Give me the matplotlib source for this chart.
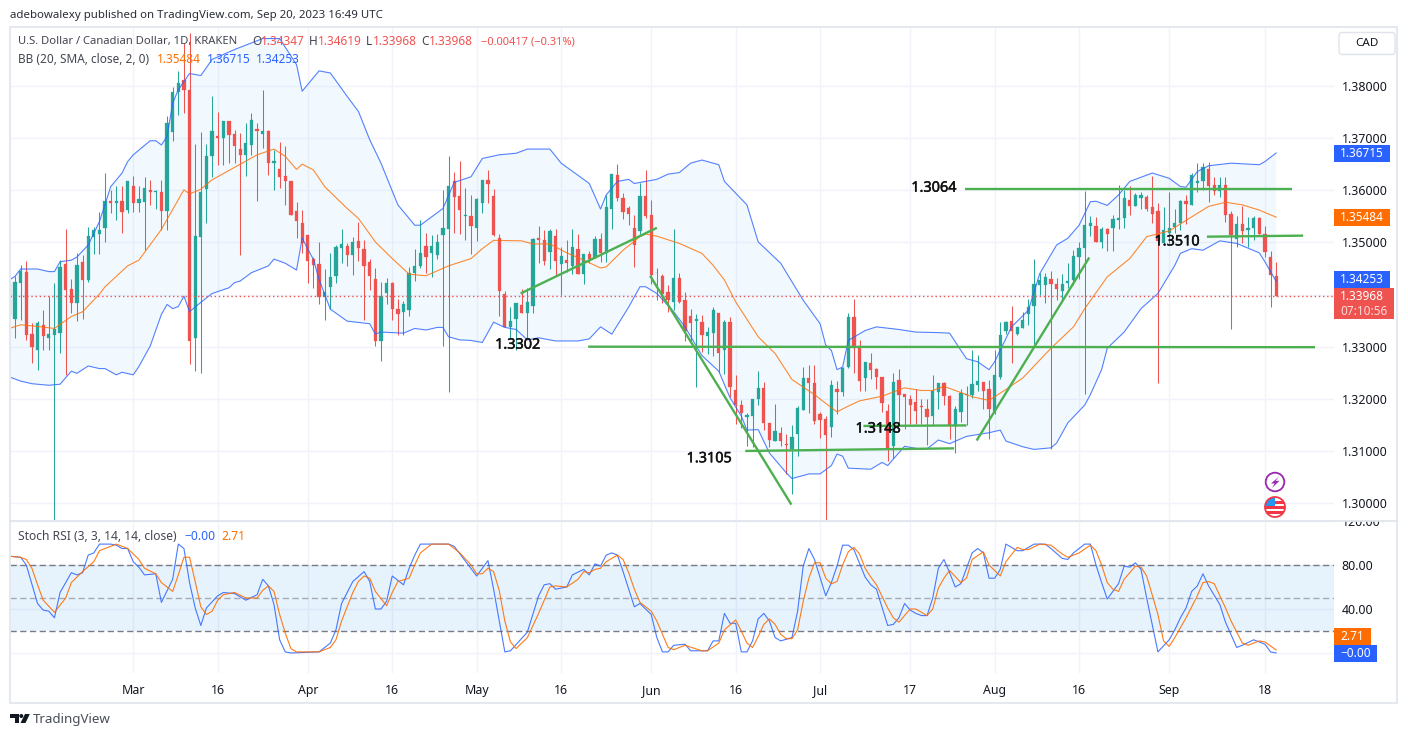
"""USD/CAD daily chart with Bollinger Bands and Stoch RSI (TradingView snapshot)."""

import numpy as np
import matplotlib
matplotlib.use('Agg')
import matplotlib.pyplot as plt
import matplotlib.patheffects as pe
from matplotlib.patches import Circle, FancyBboxPatch, Polygon, Rectangle
from matplotlib.transforms import Bbox

plt.rcParams['font.family'] = ['Noto Sans', 'DejaVu Sans']

W, H = 1408, 737

opens = [
    1.3420, 1.3353, 1.3422, 1.3444, 1.3324, 1.3294, 1.3342, 1.3316, 1.3322, 1.3326,
    1.3458, 1.3410, 1.3383, 1.3463, 1.3428, 1.3511, 1.3516, 1.3528, 1.3580, 1.3576,
    1.3580, 1.3562, 1.3608, 1.3576, 1.3578, 1.3601, 1.3596, 1.3596, 1.3561, 1.3711,
    1.3788, 1.3812, 1.3792, 1.3316, 1.3511, 1.3603, 1.3665, 1.3704, 1.3701, 1.3733,
    1.3708, 1.3679, 1.3668, 1.3687, 1.3718, 1.3708, 1.3714, 1.3653, 1.3641, 1.3628,
    1.3617, 1.3561, 1.3537, 1.3514, 1.3468, 1.3458, 1.3396, 1.3414, 1.3435, 1.3490,
    1.3494, 1.3476, 1.3502, 1.3488, 1.3463, 1.3429, 1.3311, 1.3403, 1.3423, 1.3373,
    1.3366, 1.3370, 1.3441, 1.3454, 1.3493, 1.3479, 1.3476, 1.3514, 1.3526, 1.3617,
    1.3589, 1.3551, 1.3551, 1.3528, 1.3575, 1.3620, 1.3589, 1.3508, 1.3401, 1.3337,
    1.3354, 1.3380, 1.3365, 1.3378, 1.3509, 1.3505, 1.3481, 1.3512, 1.3458, 1.3466,
    1.3454, 1.3487, 1.3439, 1.3478, 1.3471, 1.3506, 1.3480, 1.3565, 1.3629, 1.3585,
    1.3566, 1.3527, 1.3522, 1.3589, 1.3553, 1.3442, 1.3435, 1.3404, 1.3385, 1.3431,
    1.3389, 1.3358, 1.3349, 1.3347, 1.3320, 1.3326, 1.3365, 1.3293, 1.3347, 1.3216,
    1.3188, 1.3165, 1.3168, 1.3199, 1.3220, 1.3153, 1.3120, 1.3135, 1.3114, 1.3104,
    1.3133, 1.3179, 1.3240, 1.3231, 1.3170, 1.3162, 1.3146, 1.3219, 1.3213, 1.3262,
    1.3356, 1.3301, 1.3239, 1.3269, 1.3258, 1.3242, 1.3176, 1.3109, 1.3237, 1.3210,
    1.3199, 1.3194, 1.3187, 1.3180, 1.3167, 1.3213, 1.3231, 1.3206, 1.3147, 1.3174,
    1.3207, 1.3208, 1.3226, 1.3233, 1.3218, 1.3176, 1.3241, 1.3330, 1.3349, 1.3324,
    1.3335, 1.3362, 1.3378, 1.3418, 1.3419, 1.3429, 1.3421, 1.3407, 1.3422, 1.3428,
    1.3472, 1.3490, 1.3532, 1.3532, 1.3501, 1.3525, 1.3527, 1.3543, 1.3547, 1.3581,
    1.3570, 1.3585, 1.3588, 1.3567, 1.3560, 1.3499, 1.3519, 1.3529, 1.3538, 1.3579,
    1.3572, 1.3613, 1.3617, 1.3641, 1.3610, 1.3599, 1.3610, 1.3554, 1.3506, 1.3535,
    1.3524, 1.3527, 1.3547, 1.3517, 1.3472, 1.34347,
]
highs = [
    1.3428, 1.3435, 1.3456, 1.3465, 1.3346, 1.3349, 1.3370, 1.3397, 1.3423, 1.3467,
    1.3526, 1.3429, 1.3479, 1.3476, 1.3529, 1.3529, 1.3558, 1.3633, 1.3601, 1.3608,
    1.3608, 1.3618, 1.3628, 1.3608, 1.3626, 1.3620, 1.3600, 1.3620, 1.3742, 1.3798,
    1.3828, 1.3883, 1.3902, 1.3689, 1.3712, 1.3689, 1.3781, 1.3751, 1.3733, 1.3733,
    1.3716, 1.3710, 1.3729, 1.3748, 1.3729, 1.3793, 1.3715, 1.3678, 1.3692, 1.3684,
    1.3617, 1.3578, 1.3562, 1.3514, 1.3472, 1.3500, 1.3449, 1.3479, 1.3495, 1.3525,
    1.3498, 1.3510, 1.3540, 1.3505, 1.3468, 1.3450, 1.3424, 1.3431, 1.3424, 1.3392,
    1.3388, 1.3452, 1.3488, 1.3543, 1.3519, 1.3515, 1.3517, 1.3601, 1.3666, 1.3635,
    1.3656, 1.3604, 1.3590, 1.3585, 1.3620, 1.3639, 1.3602, 1.3516, 1.3406, 1.3376,
    1.3384, 1.3410, 1.3412, 1.3508, 1.3531, 1.3524, 1.3525, 1.3526, 1.3492, 1.3505,
    1.3526, 1.3517, 1.3478, 1.3484, 1.3512, 1.3519, 1.3590, 1.3631, 1.3651, 1.3594,
    1.3570, 1.3553, 1.3613, 1.3639, 1.3581, 1.3451, 1.3440, 1.3418, 1.3526, 1.3442,
    1.3404, 1.3373, 1.3363, 1.3360, 1.3338, 1.3376, 1.3365, 1.3351, 1.3357, 1.3245,
    1.3197, 1.3172, 1.3200, 1.3253, 1.3233, 1.3154, 1.3191, 1.3146, 1.3133, 1.3149,
    1.3186, 1.3262, 1.3264, 1.3264, 1.3174, 1.3168, 1.3236, 1.3234, 1.3262, 1.3365,
    1.3392, 1.3313, 1.3271, 1.3288, 1.3260, 1.3242, 1.3191, 1.3249, 1.3257, 1.3210,
    1.3208, 1.3219, 1.3200, 1.3200, 1.3245, 1.3231, 1.3233, 1.3207, 1.3186, 1.3219,
    1.3224, 1.3293, 1.3285, 1.3233, 1.3236, 1.3293, 1.3347, 1.3349, 1.3378, 1.3338,
    1.3367, 1.3392, 1.3469, 1.3442, 1.3442, 1.3446, 1.3431, 1.3440, 1.3461, 1.3485,
    1.3501, 1.3599, 1.3551, 1.3549, 1.3530, 1.3527, 1.3553, 1.3610, 1.3601, 1.3608,
    1.3594, 1.3597, 1.3590, 1.3628, 1.3575, 1.3567, 1.3596, 1.3565, 1.3581, 1.3591,
    1.3634, 1.3652, 1.3652, 1.3654, 1.3626, 1.3626, 1.3626, 1.3560, 1.3551, 1.3569,
    1.3548, 1.3551, 1.3549, 1.3531, 1.3483, 1.34619,
]
lows = [
    1.3353, 1.3316, 1.3351, 1.3312, 1.3268, 1.3256, 1.3294, 1.3294, 1.2950, 1.3287,
    1.3245, 1.3364, 1.3349, 1.3354, 1.3424, 1.3478, 1.3478, 1.3501, 1.3556, 1.3543,
    1.3519, 1.3556, 1.3559, 1.3558, 1.3485, 1.3572, 1.3565, 1.3524, 1.3524, 1.3694,
    1.3745, 1.3748, 1.3266, 1.3253, 1.3250, 1.3537, 1.3626, 1.3649, 1.3649, 1.3652,
    1.3652, 1.3476, 1.3628, 1.3668, 1.3580, 1.3681, 1.3629, 1.3601, 1.3604, 1.3572,
    1.3553, 1.3508, 1.3480, 1.3422, 1.3412, 1.3381, 1.3351, 1.3372, 1.3422, 1.3460,
    1.3454, 1.3437, 1.3465, 1.3351, 1.3409, 1.3301, 1.3272, 1.3381, 1.3351, 1.3322,
    1.3322, 1.3358, 1.3426, 1.3451, 1.3441, 1.3433, 1.3468, 1.3301, 1.3213, 1.3519,
    1.3517, 1.3504, 1.3478, 1.3503, 1.3557, 1.3575, 1.3512, 1.3359, 1.3338, 1.3315,
    1.3293, 1.3364, 1.3315, 1.3365, 1.3460, 1.3456, 1.3449, 1.3437, 1.3399, 1.3444,
    1.3440, 1.3439, 1.3420, 1.3460, 1.3471, 1.3462, 1.3463, 1.3526, 1.3580, 1.3545,
    1.3533, 1.3453, 1.3517, 1.3546, 1.3420, 1.3389, 1.3383, 1.3367, 1.3370, 1.3383,
    1.3311, 1.3311, 1.3222, 1.3290, 1.3286, 1.3283, 1.3251, 1.3248, 1.3204, 1.3151,
    1.3144, 1.3110, 1.3108, 1.3188, 1.3140, 1.3108, 1.3119, 1.3109, 1.3056, 1.3018,
    1.3091, 1.3179, 1.3173, 1.3151, 1.3124, 1.2968, 1.3127, 1.3170, 1.3205, 1.3260,
    1.3249, 1.3215, 1.3215, 1.3238, 1.3218, 1.3174, 1.3080, 1.3087, 1.3154, 1.3142,
    1.3151, 1.3151, 1.3151, 1.3111, 1.3149, 1.3181, 1.3189, 1.3122, 1.3097, 1.3155,
    1.3150, 1.3202, 1.3215, 1.3180, 1.3123, 1.3170, 1.3238, 1.3325, 1.3269, 1.3322,
    1.3335, 1.3341, 1.3306, 1.3399, 1.3384, 1.3103, 1.3390, 1.3388, 1.3412, 1.3418,
    1.3429, 1.3210, 1.3512, 1.3500, 1.3490, 1.3484, 1.3484, 1.3526, 1.3527, 1.3553,
    1.3569, 1.3565, 1.3561, 1.3538, 1.3230, 1.3499, 1.3499, 1.3519, 1.3524, 1.3535,
    1.3572, 1.3597, 1.3601, 1.3578, 1.3591, 1.3588, 1.3540, 1.3333, 1.3492, 1.3499,
    1.3492, 1.3504, 1.3516, 1.3472, 1.3376, 1.33968,
]
closes = [
    1.3360, 1.3425, 1.3446, 1.3322, 1.3299, 1.3345, 1.3321, 1.3324, 1.3333, 1.3453,
    1.3409, 1.3383, 1.3456, 1.3428, 1.3512, 1.3524, 1.3524, 1.3580, 1.3576, 1.3580,
    1.3558, 1.3618, 1.3576, 1.3583, 1.3604, 1.3596, 1.3599, 1.3561, 1.3729, 1.3788,
    1.3806, 1.3792, 1.3311, 1.3512, 1.3597, 1.3666, 1.3714, 1.3701, 1.3733, 1.3706,
    1.3684, 1.3668, 1.3690, 1.3735, 1.3713, 1.3714, 1.3653, 1.3656, 1.3625, 1.3617,
    1.3553, 1.3542, 1.3498, 1.3465, 1.3456, 1.3396, 1.3404, 1.3434, 1.3492, 1.3496,
    1.3476, 1.3500, 1.3490, 1.3454, 1.3436, 1.3311, 1.3397, 1.3422, 1.3372, 1.3362,
    1.3381, 1.3441, 1.3454, 1.3479, 1.3472, 1.3493, 1.3500, 1.3527, 1.3608, 1.3588,
    1.3562, 1.3553, 1.3531, 1.3583, 1.3620, 1.3612, 1.3514, 1.3406, 1.3337, 1.3349,
    1.3383, 1.3365, 1.3385, 1.3506, 1.3505, 1.3465, 1.3522, 1.3465, 1.3474, 1.3460,
    1.3492, 1.3439, 1.3478, 1.3469, 1.3506, 1.3479, 1.3567, 1.3631, 1.3585, 1.3558,
    1.3555, 1.3495, 1.3589, 1.3551, 1.3438, 1.3442, 1.3402, 1.3389, 1.3431, 1.3386,
    1.3331, 1.3346, 1.3353, 1.3322, 1.3328, 1.3370, 1.3288, 1.3347, 1.3222, 1.3189,
    1.3173, 1.3169, 1.3200, 1.3220, 1.3153, 1.3121, 1.3139, 1.3120, 1.3111, 1.3127,
    1.3183, 1.3240, 1.3231, 1.3157, 1.3160, 1.3130, 1.3226, 1.3213, 1.3260, 1.3356,
    1.3298, 1.3234, 1.3271, 1.3256, 1.3242, 1.3192, 1.3106, 1.3232, 1.3208, 1.3203,
    1.3189, 1.3176, 1.3185, 1.3165, 1.3215, 1.3231, 1.3205, 1.3147, 1.3181, 1.3212,
    1.3210, 1.3228, 1.3235, 1.3215, 1.3180, 1.3245, 1.3322, 1.3348, 1.3330, 1.3337,
    1.3351, 1.3376, 1.3420, 1.3428, 1.3433, 1.3420, 1.3410, 1.3421, 1.3426, 1.3474,
    1.3490, 1.3533, 1.3537, 1.3501, 1.3526, 1.3517, 1.3545, 1.3547, 1.3585, 1.3570,
    1.3590, 1.3590, 1.3565, 1.3554, 1.3503, 1.3524, 1.3528, 1.3538, 1.3579, 1.3574,
    1.3629, 1.3618, 1.3644, 1.3608, 1.3599, 1.3610, 1.3553, 1.3514, 1.3535, 1.3522,
    1.3528, 1.3546, 1.3517, 1.3482, 1.3437, 1.33968,
]

# bollinger bands, read at the kinks of each line
upper_idx = [0, 1, 2, 5, 7, 8, 9, 11, 12, 14, 16, 18, 20, 21, 22, 25, 26, 27, 28, 29, 30, 32, 34, 36, 40, 45, 48,
             51, 52, 55, 57, 60, 62, 64, 66, 69, 72, 73, 77, 79, 82, 84, 87, 90, 92, 96, 98, 103, 105, 106, 108,
             110, 111, 115, 117, 119, 121, 123, 126, 127, 131, 133, 137, 141, 144, 145, 146, 147, 148, 149, 152,
             154, 158, 161, 165, 167, 169, 170, 172, 174, 175, 178, 181, 183, 186, 188, 190, 192, 193, 195, 197,
             199, 203, 206, 208, 209, 211, 213, 217, 222, 223, 225]
upper = [1.3428, 1.3435, 1.3449, 1.3449, 1.3444, 1.3444, 1.3463, 1.3466, 1.3472, 1.3495, 1.3540, 1.3607, 1.3633,
         1.3655, 1.3668, 1.3695, 1.3695, 1.3687, 1.3703, 1.3767, 1.3793, 1.3824, 1.3820, 1.3851, 1.3870, 1.3891,
         1.3891, 1.3841, 1.3790, 1.3829, 1.3825, 1.3780, 1.3751, 1.3697, 1.3652, 1.3572, 1.3533, 1.3533, 1.3565,
         1.3615, 1.3626, 1.3661, 1.3668, 1.3671, 1.3679, 1.3679, 1.3652, 1.3613, 1.3564, 1.3591, 1.3617, 1.3621,
         1.3613, 1.3621, 1.3631, 1.3634, 1.3652, 1.3658, 1.3649, 1.3617, 1.3572, 1.3501, 1.3460, 1.3389, 1.3344,
         1.3303, 1.3293, 1.3256, 1.3261, 1.3312, 1.3331, 1.3338, 1.3333, 1.3328, 1.3327, 1.3326, 1.3293, 1.3277,
         1.3271, 1.3256, 1.3271, 1.3338, 1.3370, 1.3440, 1.3495, 1.3508, 1.3533, 1.3578, 1.3579, 1.3571, 1.3591,
         1.3617, 1.3633, 1.3623, 1.3607, 1.3606, 1.3636, 1.3647, 1.3652, 1.3649, 1.3655, 1.36715]
basis_idx = [0, 2, 4, 8, 11, 13, 16, 17, 21, 23, 27, 31, 32, 34, 36, 40, 44, 47, 49, 51, 52, 54, 56, 60, 62, 65, 68,
             71, 74, 78, 82, 84, 86, 91, 93, 96, 99, 102, 105, 106, 109, 112, 113, 115, 119, 123, 125, 127, 129,
             133, 136, 139, 143, 146, 147, 149, 151, 155, 159, 162, 164, 166, 169, 171, 174, 177, 180, 185, 189,
             191, 195, 199, 202, 206, 210, 213, 216, 219, 222, 225]
basis = [1.3335, 1.3342, 1.3340, 1.3335, 1.3358, 1.3367, 1.3401, 1.3415, 1.3455, 1.3466, 1.3525, 1.3601, 1.3593,
         1.3602, 1.3620, 1.3644, 1.3668, 1.3679, 1.3665, 1.3640, 1.3650, 1.3639, 1.3607, 1.3565, 1.3546, 1.3501,
         1.3469, 1.3439, 1.3436, 1.3455, 1.3469, 1.3488, 1.3504, 1.3503, 1.3497, 1.3497, 1.3480, 1.3466, 1.3451,
         1.3453, 1.3485, 1.3511, 1.3516, 1.3512, 1.3498, 1.3479, 1.3456, 1.3428, 1.3386, 1.3319, 1.3287, 1.3237,
         1.3208, 1.3183, 1.3175, 1.3186, 1.3196, 1.3205, 1.3221, 1.3216, 1.3216, 1.3224, 1.3212, 1.3204, 1.3197,
         1.3218, 1.3240, 1.3297, 1.3338, 1.3373, 1.3434, 1.3469, 1.3511, 1.3522, 1.3549, 1.3569, 1.3577, 1.3572,
         1.3562, 1.35484]
lower_idx = [0, 2, 4, 7, 9, 11, 12, 14, 16, 17, 19, 20, 22, 23, 25, 27, 28, 29, 30, 31, 32, 34, 36, 39, 40, 41, 43,
             46, 47, 49, 51, 52, 54, 55, 57, 60, 64, 65, 66, 70, 72, 74, 76, 77, 78, 80, 82, 84, 86, 88, 90, 92,
             94, 97, 101, 103, 105, 107, 110, 112, 113, 115, 118, 120, 123, 126, 128, 130, 131, 133, 135, 138,
             139, 142, 144, 146, 147, 148, 149, 153, 155, 156, 159, 162, 163, 165, 167, 170, 174, 176, 177, 180,
             182, 185, 186, 188, 191, 192, 194, 195, 198, 201, 204, 207, 208, 210, 212, 215, 218, 222, 223, 225]
lower = [1.3242, 1.3234, 1.3229, 1.3226, 1.3228, 1.3253, 1.3249, 1.3263, 1.3258, 1.3258, 1.3246, 1.3251, 1.3246,
         1.3262, 1.3301, 1.3362, 1.3381, 1.3373, 1.3377, 1.3397, 1.3367, 1.3385, 1.3402, 1.3413, 1.3423, 1.3426,
         1.3442, 1.3455, 1.3468, 1.3460, 1.3447, 1.3508, 1.3467, 1.3429, 1.3372, 1.3349, 1.3344, 1.3324, 1.3328,
         1.3326, 1.3335, 1.3332, 1.3337, 1.3337, 1.3319, 1.3313, 1.3312, 1.3308, 1.3347, 1.3337, 1.3333, 1.3313,
         1.3317, 1.3311, 1.3311, 1.3315, 1.3338, 1.3324, 1.3376, 1.3415, 1.3415, 1.3402, 1.3367, 1.3338, 1.3283,
         1.3253, 1.3202, 1.3167, 1.3140, 1.3141, 1.3096, 1.3058, 1.3047, 1.3056, 1.3056, 1.3072, 1.3094, 1.3090,
         1.3067, 1.3065, 1.3078, 1.3072, 1.3109, 1.3103, 1.3104, 1.3121, 1.3114, 1.3128, 1.3135, 1.3140, 1.3119,
         1.3108, 1.3103, 1.3106, 1.3115, 1.3154, 1.3188, 1.3208, 1.3256, 1.3297, 1.3328, 1.3373, 1.3402, 1.3456,
         1.3479, 1.3488, 1.3485, 1.3503, 1.3498, 1.3480, 1.3463, 1.34253]

k_idx = [0, 2, 3, 5, 6, 7, 8, 9, 11, 12, 13, 14, 15, 16, 18, 19, 20, 21, 22, 23, 24, 26, 27, 29, 30, 31, 32, 33, 34,
         35, 37, 38, 40, 42, 44, 45, 46, 47, 48, 49, 50, 55, 57, 58, 59, 61, 63, 64, 65, 66, 67, 68, 70, 71, 72,
         73, 78, 79, 83, 85, 86, 88, 89, 92, 94, 95, 96, 97, 99, 100, 102, 103, 104, 105, 106, 107, 108, 109, 111,
         112, 114, 115, 116, 117, 118, 120, 121, 124, 125, 126, 127, 128, 129, 130, 131, 132, 133, 134, 135, 136,
         137, 139, 140, 141, 142, 143, 145, 146, 147, 148, 149, 150, 152, 153, 154, 156, 157, 158, 159, 160, 161,
         162, 163, 164, 165, 166, 167, 168, 169, 170, 171, 172, 173, 174, 175, 176, 177, 179, 180, 182, 184, 185,
         187, 188, 189, 191, 192, 193, 194, 195, 197, 198, 199, 200, 201, 202, 204, 206, 207, 208, 209, 210, 211,
         212, 213, 215, 216, 218, 219, 221, 223, 224, 225]
k_vals = [88, 87, 80, 45, 39, 38, 32, 55, 73, 71, 73, 89, 91, 99, 99, 98, 95, 95, 83, 78, 71, 72, 46, 67, 99, 95, 64,
          41, 25, 41, 52, 55, 54, 48, 53, 67, 61, 44, 12, 1, 0, 1, 9, 21, 45, 65, 74, 65, 40, 40, 47, 70, 62, 77,
          89, 99, 99, 97, 70, 84, 58, 1, 2, 19, 52, 62, 63, 58, 60, 71, 76, 71, 81, 79, 89, 91, 89, 74, 42, 45, 35,
          14, 1, 1, 7, 8, 2, 2, 11, 11, 36, 27, 27, 1, 1, 11, 31, 36, 29, 14, 11, 14, 38, 79, 95, 85, 52, 64, 79,
          98, 98, 94, 69, 62, 58, 25, 26, 32, 45, 39, 36, 34, 34, 50, 77, 85, 73, 60, 63, 77, 91, 95, 91, 68, 68,
          76, 99, 93, 93, 99, 99, 95, 86, 85, 91, 99, 99, 80, 64, 49, 63, 79, 78, 82, 76, 50, 1, 12, 21, 32, 41, 56,
          61, 72, 61, 44, 28, 5, 7, 12, 8, 1, -0.00]
d_idx = [0, 2, 3, 4, 5, 6, 8, 10, 11, 13, 15, 16, 19, 21, 23, 24, 26, 27, 29, 30, 31, 32, 33, 34, 35, 36, 37, 38, 40,
         42, 44, 45, 46, 47, 48, 49, 50, 51, 55, 57, 58, 59, 61, 62, 63, 64, 65, 67, 68, 69, 71, 72, 73, 75, 78, 80,
         82, 83, 84, 85, 86, 87, 88, 89, 90, 92, 94, 96, 97, 99, 101, 102, 103, 104, 105, 106, 108, 109, 110, 111,
         112, 114, 115, 117, 118, 120, 123, 124, 126, 127, 129, 130, 131, 132, 133, 134, 135, 136, 137, 138, 139,
         140, 141, 142, 143, 144, 145, 146, 147, 148, 149, 150, 151, 152, 153, 154, 156, 157, 158, 160, 161, 163,
         164, 165, 166, 167, 169, 170, 171, 173, 174, 176, 177, 179, 180, 181, 183, 185, 187, 188, 190, 192, 193,
         194, 195, 196, 197, 198, 200, 201, 202, 204, 205, 206, 207, 209, 211, 212, 213, 214, 216, 217, 219, 220,
         222, 223, 225]
d_vals = [88, 87, 85, 77, 62, 48, 37, 50, 64, 74, 83, 93, 99, 95, 85, 77, 72, 64, 56, 71, 87, 87, 65, 42, 35, 38, 48,
          53, 55, 50, 50, 57, 61, 56, 35, 18, 4, 1, 1, 5, 12, 29, 55, 65, 70, 68, 56, 43, 55, 65, 68, 80, 91, 99, 99,
          91, 80, 72, 72, 77, 74, 57, 29, 10, 4, 14, 36, 60, 61, 60, 67, 74, 73, 76, 77, 83, 89, 85, 73, 58, 46, 38,
          29, 5, 3, 7, 2, 2, 9, 21, 30, 20, 9, 5, 15, 26, 31, 26, 17, 13, 13, 21, 47, 68, 82, 82, 68, 63, 65, 80, 92,
          96, 90, 77, 69, 62, 41, 32, 28, 40, 40, 34, 40, 59, 68, 75, 64, 68, 85, 92, 80, 70, 83, 96, 94, 94, 99, 98,
          90, 87, 91, 98, 93, 80, 64, 58, 56, 67, 79, 78, 70, 35, 11, 6, 14, 32, 52, 64, 65, 63, 41, 29, 9, 7, 11, 10,
          2.71]

price_ticks = [1.30, 1.31, 1.32, 1.33, 1.34, 1.35, 1.36, 1.37, 1.38]
# 1.34000 sits under the last price tag in the original
price_labels = ['1.30000', '1.31000', '1.32000', '1.33000', '', '1.35000', '1.36000', '1.37000', '1.38000']
stoch_ticks = [0, 40, 80, 120]
stoch_labels = ['', '40.00', '80.00', '120.00']
date_idx = [22, 37, 53, 68, 83, 98, 114, 129, 144, 160, 175, 190, 206, 223]
date_labels = ['Mar', '16', 'Apr', '16', 'May', '16', 'Jun', '16', 'Jul', '17', 'Aug', '16', 'Sep', '18']

# trend lines drawn on the chart: (start idx, end idx, start price, end price)
trend_lines = [
    (169.7, 227.8, 1.3602, 1.3602),
    (102.8, 231.9, 1.3300, 1.3299),
    (212.7, 229.8, 1.3511, 1.3513),
    (90.8, 115.0, 1.3402, 1.3528),
    (113.8, 138.9, 1.3436, 1.2997),
    (130.7, 167.8, 1.3100, 1.3105),
    (151.7, 170.0, 1.3148, 1.3149),
    (171.8, 191.8, 1.3120, 1.3471),
]
note_labels = ['1.3064', '1.3302', '1.3510', '1.3148', '1.3105']
note_idx = [164.2, 90.3, 207.4, 154.3, 124.3]
note_prices = [1.3604, 1.3303, 1.3501, 1.3142, 1.3085]

last_close = 1.33968

UP = '#26a69a'
DOWN = '#ef5350'
BLUE = '#2962ff'
ORANGE = '#ff6d00'
GREEN = '#4caf50'
GRID = '#f0f3fa'
TEXT = '#131722'
FRAME = '#e6e8f0'

fig = plt.figure(figsize=(W / 100, H / 100), dpi=100, facecolor='white')


def pane(left, top, right, bottom):
    return fig.add_axes([left / W, 1 - bottom / H, (right - left) / W, (bottom - top) / H])


ax = pane(10, 28, 1334, 520)
ax2 = pane(10, 521, 1334, 673)
XLIM = ((10 - 9.4) / 5.63, (1334 - 9.4) / 5.63)
for a in (ax, ax2):
    a.set_xlim(*XLIM)
    for s in a.spines.values():
        s.set_visible(False)
    a.set_axisbelow(True)
    a.grid(True, color=GRID, lw=1)
    a.yaxis.tick_right()
    a.tick_params(length=0, labelsize=8.9, colors=TEXT, pad=5.5)
    a.set_xticks(date_idx)
ax.set_xticklabels([])
ax2.set_xticklabels(date_labels)
ax2.tick_params(axis='x', pad=8)
ax.set_ylim(1.38 - (520 - 86) * 0.0001918, 1.38 + (86 - 28) * 0.0001918)
ax.set_yticks(price_ticks)
ax.set_yticklabels(price_labels)
ax2.set_ylim(-18.2, 120)
ax2.set_yticks(stoch_ticks)
ax2.set_yticklabels(stoch_labels)
# the 120.00 label gets cut off by the pane separator
for t in ax2.get_yticklabels():
    t.set_clip_on(True)
    t.set_clip_box(Bbox([[0, 0], [W, H - 520.5]]))

# bollinger band fill + candles + band lines
ax.fill(np.r_[upper_idx, lower_idx[::-1]], np.r_[upper, lower[::-1]], color='#2196f3', alpha=0.055, lw=0, zorder=1)

opens, highs, lows, closes = map(np.array, (opens, highs, lows, closes))
bars = np.arange(len(opens))
colors = np.where(closes >= opens, UP, DOWN)
ax.vlines(bars, lows, highs, colors=colors, lw=0.75, zorder=2)
ax.bar(bars, np.abs(closes - opens), bottom=np.minimum(opens, closes), width=0.58, color=colors, lw=0.2,
       edgecolor=colors, zorder=3)

ax.plot(upper_idx, upper, color=BLUE, lw=0.8, alpha=0.8, zorder=4)
ax.plot(lower_idx, lower, color=BLUE, lw=0.8, alpha=0.8, zorder=4)
ax.plot(basis_idx, basis, color=ORANGE, lw=0.8, alpha=0.8, zorder=4)
ax.axhline(last_close, color=DOWN, lw=1, ls=(0, (1, 2)), zorder=4)

for x0, x1, y0, y1 in trend_lines:
    ax.plot([x0, x1], [y0, y1], color=GREEN, lw=1.7, solid_capstyle='butt', zorder=5)
for label_text, x, y in zip(note_labels, note_idx, note_prices):
    ax.text(x, y, label_text, ha='center', va='center', fontsize=10.4, color='#111111', zorder=6,
            path_effects=[pe.withStroke(linewidth=0.35, foreground='#111111')])

# stoch rsi pane
ax2.axhspan(20, 80, color='#2196f3', alpha=0.11, lw=0, zorder=1)
ax2.axhline(80, color='#787b86', lw=1, ls=(0, (4.5, 2.5)), zorder=2)
ax2.axhline(50, color='#787b86', lw=1, alpha=0.6, ls=(0, (4.5, 2.5)), zorder=2)
ax2.axhline(20, color='#787b86', lw=1, ls=(0, (4.5, 2.5)), zorder=2)
ax2.plot(k_idx, k_vals, color=BLUE, lw=0.8, alpha=0.85, zorder=3)
ax2.plot(d_idx, d_vals, color=ORANGE, lw=0.8, alpha=0.9, zorder=4)

# overlay in pixel coordinates for legends, price tags, frame and logo
deco = fig.add_axes([0, 0, 1, 1], zorder=10)
deco.set_xlim(0, W)
deco.set_ylim(H, 0)
deco.axis('off')
deco.patch.set_alpha(0)


def label(x, y, s, color=TEXT, size=8.5, ha='left', **kw):
    deco.text(x, y, s, color=color, fontsize=size, ha=ha, va='center', **kw)


def tag(x0, x1, y0, y1, color):
    deco.add_patch(Rectangle((x0, y0), x1 - x0, y1 - y0, fc=color, ec='none'))


deco.add_patch(Rectangle((10, 27), 1387, 675.5, fc='none', ec=FRAME, lw=1.5))
deco.plot([10, 1397], [520.5, 520.5], color='#e0e3eb', lw=1.2)

label(10, 15, 'adebowalexy published on TradingView.com, Sep 20, 2023 16:49 UTC', color='#2a2e39', size=8.25)
label(18, 41.5, 'U.S. Dollar / Canadian Dollar, 1D, KRAKEN', color='#434651', size=8.1)
for x, s, c in [(252, 'O', '#434651'), (260.5, '1.34347', DOWN), (309, 'H', '#434651'), (317.5, '1.34619', DOWN),
                (366, 'L', '#434651'), (373, '1.33968', DOWN), (421, 'C', '#434651'), (429, '1.33968', DOWN)]:
    label(x, 41.5, s, color=c)
label(481, 41.5, '\u22120.00417 (\u22120.31%)', color=DOWN, size=8.0)
label(18, 59, 'BB (20, SMA, close, 2, 0)', color='#434651')
label(157, 59, '1.35484', color=ORANGE)
label(207, 59, '1.36715', color=BLUE)
label(256, 59, '1.34253', color=BLUE)
label(18, 536, 'Stoch RSI (3, 3, 14, 14, close)', color='#434651', size=8.7)
label(184, 536, '\u22120.00', color=BLUE, size=8.7)
label(221, 536, '2.71', color=ORANGE, size=8.7)

deco.add_patch(FancyBboxPatch((1339, 32.5), 56, 22, boxstyle='round,pad=0,rounding_size=3', fc='white',
                              ec='#e0e3eb', lw=1))
label(1367, 43.5, 'CAD', ha='center', size=8.4)

# price tags on the right scale
tag(1334, 1390, 145, 162, BLUE)
label(1362, 153.5, '1.36715', color='white', ha='center', fontweight='bold')
tag(1334, 1390, 209, 226, ORANGE)
label(1362, 217.5, '1.35484', color='white', ha='center', fontweight='bold')
tag(1334, 1390, 271, 288, BLUE)
label(1362, 279.5, '1.34253', color='white', ha='center', fontweight='bold')
tag(1334, 1394, 288, 319, DOWN)
label(1362, 296.5, '1.33968', color='white', ha='center', fontweight='bold')
label(1364, 311, '07:10:56', color='#fbdcdc', ha='center')
tag(1334, 1371, 628, 645, ORANGE)
label(1352.5, 636.5, '2.71', color='white', ha='center', fontweight='bold')
tag(1334, 1377, 645, 662, BLUE)
label(1355.5, 653.5, '\u22120.00', color='white', ha='center', fontweight='bold')

# event icons
deco.add_patch(Circle((1275, 482), 9.3, fc='white', ec='#9c27b0', lw=1.3))
deco.add_patch(Polygon([(1279, 476.5), (1271, 483.5), (1274.6, 483.5), (1272, 488), (1279.5, 480.8), (1275.6, 480.8)],
                       fc='#9c27b0', ec='none'))
flag = Circle((1275, 507), 10, fc='white', ec='none')
deco.add_patch(flag)
for y0, h in [(501, 2.6), (506, 2.6), (511, 2.6)]:
    deco.add_patch(Rectangle((1264, y0), 22, h, fc='#f23645', ec='none', clip_path=flag))
deco.add_patch(Rectangle((1266, 498), 9, 8, fc='#2196f3', ec='none', clip_path=flag))
deco.add_patch(Circle((1275, 507), 10, fc='none', ec='#f23645', lw=1.3))

# tradingview logo
deco.add_patch(Polygon([(10, 714), (18.5, 714), (18.5, 723), (14.5, 723), (14.5, 718), (10, 718)], fc=TEXT, ec='none'))
deco.add_patch(Circle((21.3, 716), 2, fc=TEXT, ec='none'))
deco.add_patch(Polygon([(25, 714), (29.8, 714), (25.5, 723), (20.5, 723)], fc=TEXT, ec='none'))
label(33, 719.5, 'TradingView', color='#4a4e59', size=9.6)

fig.savefig('out.png', dpi=100)
plt.close(fig)
